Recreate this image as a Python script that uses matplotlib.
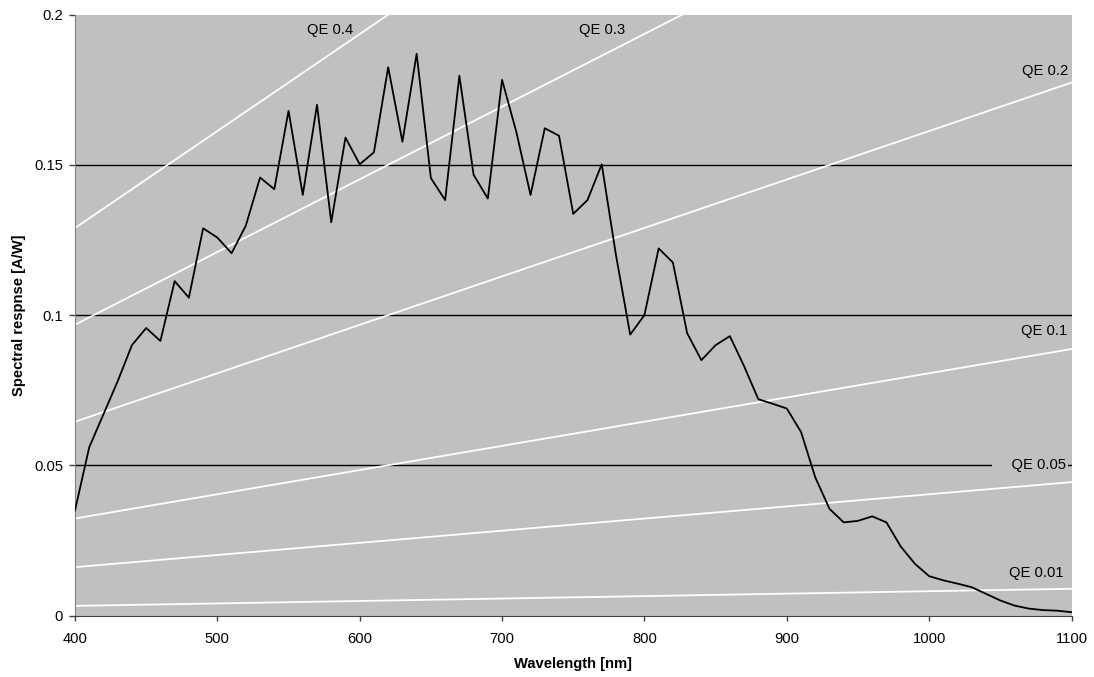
import matplotlib
matplotlib.use("Agg")
import matplotlib.pyplot as plt

wavelength = [400, 410, 420, 430, 440, 450, 460, 470, 480, 490,
              500, 510, 520, 530, 540, 550, 560, 570, 580, 590,
              600, 610, 620, 630, 640, 650, 660, 670, 680, 690,
              700, 710, 720, 730, 740, 750, 760, 770, 780, 790,
              800, 810, 820, 830, 840, 850, 860, 870, 880, 890,
              900, 910, 920, 930, 940, 950, 960, 970, 980, 990,
              1000, 1010, 1020, 1030, 1040, 1050, 1060, 1070, 1080, 1090, 1100]
response = [0.035, 0.056, 0.067, 0.078, 0.090, 0.0957, 0.0914, 0.1113, 0.1058, 0.1289,
            0.1258, 0.1206, 0.1298, 0.1458, 0.1419, 0.168, 0.140, 0.170, 0.1309, 0.1591,
            0.1502, 0.1542, 0.1825, 0.1577, 0.187, 0.1456, 0.1383, 0.1797, 0.1467, 0.1388,
            0.1783, 0.161, 0.140, 0.1622, 0.1597, 0.1337, 0.1383, 0.1502, 0.120, 0.0935,
            0.100, 0.1222, 0.1175, 0.094, 0.085, 0.090, 0.093, 0.083, 0.072, 0.0705,
            0.0689, 0.0611, 0.046, 0.0355, 0.031, 0.0315, 0.033, 0.031, 0.023, 0.0172,
            0.0131, 0.0117, 0.0106, 0.0094, 0.0072, 0.005, 0.0033, 0.0023, 0.0018, 0.0016, 0.0011]

# QE reference lines: responsivity at 400 nm and 1100 nm
qe_labels = ["QE 0.4", "QE 0.3", "QE 0.2", "QE 0.1", "QE 0.05", "QE 0.01"]
qe_ends_x = [400, 1100]
qe_start = [0.1290, 0.0968, 0.0645, 0.0323, 0.0161, 0.0032]
qe_end = [0.3549, 0.2662, 0.1774, 0.0887, 0.0444, 0.0089]
label_x = [595.4, 786.5, 1097.9, 1097.2, 1095.8, 1094.4]
label_y = [0.195, 0.195, 0.1811, 0.0948, 0.050, 0.0141]

xticks = [400, 500, 600, 700, 800, 900, 1000, 1100]
yticks = [0, 0.05, 0.1, 0.15, 0.2]
ytick_labels = ["0", "0.05", "0.1", "0.15", "0.2"]

plt.rcParams['font.family'] = ['Liberation Sans', 'DejaVu Sans']
FS = 10.6

fig = plt.figure(figsize=(10.94, 6.77), dpi=100)
ax = fig.add_axes([75 / 1094, 1 - 615.5 / 677, (1071.5 - 75) / 1094, (615.5 - 14.7) / 677])
ax.set_facecolor('#C0C0C0')

for yv in [0.05, 0.1, 0.15]:
    ax.axhline(yv, color='black', lw=1.0, zorder=1)

for s, e in zip(qe_start, qe_end):
    ax.plot(qe_ends_x, [s, e], color='white', lw=1.3, zorder=2)

ax.plot(wavelength, response, color='black', lw=1.3, zorder=3)

for lab, lx, ly in zip(qe_labels, label_x, label_y):
    if lab == "QE 0.05":
        ax.text(lx, ly, "    " + lab, ha='right', va='center', fontsize=FS, zorder=4,
                bbox=dict(facecolor='#C0C0C0', edgecolor='none', pad=1.5))
    else:
        ax.text(lx, ly, lab, ha='right', va='center', fontsize=FS, zorder=4)

ax.set_xlim(400, 1100)
ax.set_ylim(0, 0.2)
ax.set_xticks(xticks)
ax.set_yticks(yticks)
ax.set_yticklabels(ytick_labels)
ax.tick_params(direction='out', width=1, colors='#404040', labelcolor='black', labelsize=FS)
ax.tick_params(axis='x', length=3.6, pad=8)
ax.tick_params(axis='y', length=4.5, pad=4)

for sp in ['top', 'right']:
    ax.spines[sp].set_visible(False)
ax.spines['left'].set_color('#808080')
ax.spines['bottom'].set_color('#404040')

ax.set_xlabel('Wavelength [nm]', fontsize=FS, fontweight='bold', labelpad=8)
ax.set_ylabel('Spectral respnse [A/W]', fontsize=FS, fontweight='bold', labelpad=6)

fig.savefig('out.png', dpi=100)
